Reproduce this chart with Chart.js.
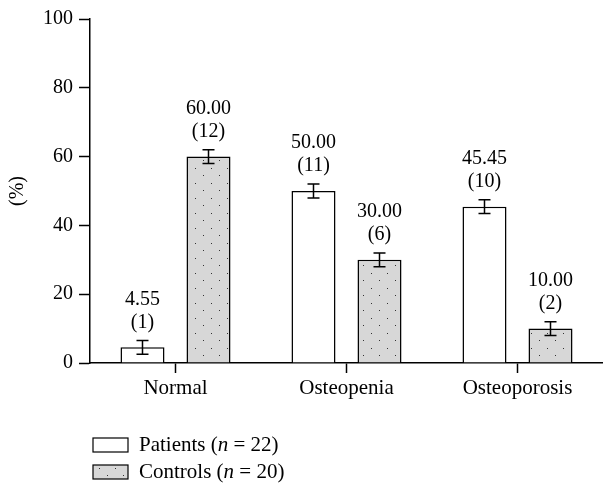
<!DOCTYPE html>
<html>
<head>
<meta charset="utf-8">
<script src="https://cdn.jsdelivr.net/npm/chart.js@4.4.0/dist/chart.umd.min.js"></script>
<style>
  html, body { margin: 0; padding: 0; background: #fff; }
  #wrap { width: 603px; height: 483px; position: relative; }
</style>
</head>
<body>
<div id="wrap"><canvas id="c"></canvas></div>
<script>
const categories = ['Normal', 'Osteopenia', 'Osteoporosis']
const patients = [4.55, 50.00, 45.45]
const controls = [60.00, 30.00, 10.00]
const patientCounts = [1, 11, 10]
const controlCounts = [12, 6, 2]
const patientErr = [2, 2, 2]
const controlErr = [2, 2, 2]
const yTicks = [0, 20, 40, 60, 80, 100]
const legendLabels = [['Patients (', 'n', ' = 22)'], ['Controls (', 'n', ' = 20)']]

const FONT = '"Liberation Serif", "Times New Roman", serif'

// dotted grey fill for the controls bars
function dotPattern() {
  const p = document.createElement('canvas')
  p.width = 16
  p.height = 15
  const g = p.getContext('2d')
  g.fillStyle = '#d7d7d7'
  g.fillRect(0, 0, 16, 15)
  g.fillStyle = '#333'
  g.fillRect(3, 3, 1, 1)
  g.fillRect(11, 10, 1, 1)
  return g.createPattern(p, 'repeat')
}

const ctx = document.getElementById('c').getContext('2d')
const pattern = dotPattern()

const errorBars = {
  id: 'errorBars',
  afterDatasetsDraw(chart) {
    const c = chart.ctx
    const y = chart.scales.y
    const errs = [patientErr, controlErr]
    const counts = [patientCounts, controlCounts]
    c.save()
    c.strokeStyle = '#000'
    c.lineWidth = 1.5
    c.fillStyle = '#000'
    c.font = '20px ' + FONT
    c.textAlign = 'center'
    c.textBaseline = 'middle'
    chart.data.datasets.forEach(function(ds, di) {
      chart.getDatasetMeta(di).data.forEach(function(bar, i) {
        const v = ds.data[i]
        const top = y.getPixelForValue(v + errs[di][i])
        const bot = y.getPixelForValue(v - errs[di][i])
        c.beginPath()
        c.moveTo(bar.x, top); c.lineTo(bar.x, bot)
        c.moveTo(bar.x - 6, top); c.lineTo(bar.x + 6, top)
        c.moveTo(bar.x - 6, bot); c.lineTo(bar.x + 6, bot)
        c.stroke()
        c.fillText(v.toFixed(2), bar.x, top - 41)
        c.fillText('(' + counts[di][i] + ')', bar.x, top - 18)
      })
    })
    c.restore()
  }
}

const legendPlugin = {
  id: 'legendBoxes',
  afterDraw(chart) {
    const c = chart.ctx
    c.save()
    c.textBaseline = 'middle'
    const fills = ['#fff', pattern]
    legendLabels.forEach(function(parts, i) {
      const yy = 445 + i * 27
      c.fillStyle = fills[i]
      c.fillRect(93, yy - 7, 35, 14)
      c.strokeStyle = '#000'
      c.lineWidth = 1.2
      c.strokeRect(93, yy - 7, 35, 14)
      c.fillStyle = '#000'
      let x = 139
      parts.forEach(function(t, k) {
        c.font = (k === 1 ? 'italic ' : '') + '21px ' + FONT
        c.fillText(t, x, yy)
        x += c.measureText(t).width
      })
    })
    c.restore()
  }
}

new Chart(ctx, {
  type: 'bar',
  data: {
    labels: categories,
    datasets: [
      { label: 'Patients', data: patients, backgroundColor: '#fff', borderColor: '#000', borderWidth: 1.5 },
      { label: 'Controls', data: controls, backgroundColor: pattern, borderColor: '#000', borderWidth: 1.5 }
    ]
  },
  options: {
    responsive: true,
    maintainAspectRatio: false,
    animation: false,
    devicePixelRatio: 1,
    categoryPercentage: 0.772,
    barPercentage: 0.667,
    layout: { padding: { top: 19, right: 0, bottom: 80, left: 0 } },
    plugins: { legend: { display: false }, tooltip: { enabled: false } },
    scales: {
      x: {
        afterFit: function(s) { s.height = 40 },
        grid: { offset: false, drawOnChartArea: false, drawTicks: true, tickLength: 10, tickColor: '#000', tickWidth: 1.5 },
        border: { display: true, color: '#000', width: 1.5 },
        ticks: { color: '#000', padding: 3, font: { family: FONT, size: 21 } }
      },
      y: {
        min: 0,
        max: 100,
        afterFit: function(s) { s.width = 90 },
        afterBuildTicks: function(s) { s.ticks = yTicks.map(function(v) { return { value: v } }) },
        grid: { drawOnChartArea: false, drawTicks: true, tickLength: 11, tickColor: '#000', tickWidth: 1.5 },
        border: { display: true, color: '#000', width: 1.5 },
        ticks: { color: '#000', padding: 6, font: { family: FONT, size: 20 } },
        title: { display: true, text: '(%)', color: '#000', padding: { top: 6, bottom: 0 }, font: { family: FONT, size: 20 } }
      }
    }
  },
  plugins: [errorBars, legendPlugin]
})
</script>
</body>
</html>
